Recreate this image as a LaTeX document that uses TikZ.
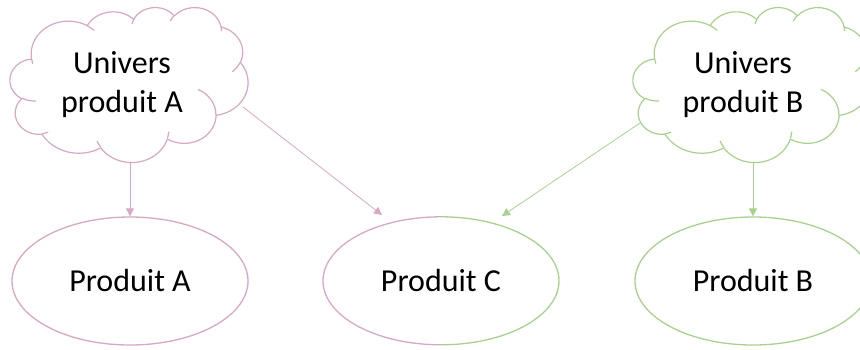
\documentclass[tikz,border=0pt]{standalone}
\usepackage{fontspec}
\setmainfont{Carlito}
\usetikzlibrary{arrows.meta,shapes.geometric}
\definecolor{pinkc}{RGB}{214,168,196}
\definecolor{greenc}{RGB}{169,209,142}

% DrawingML-style arcTo: wR hR stAng swAng (degrees, visual angles)
\newcommand\oocalc[4]{%
  \pgfmathsetmacro\ooA{#3+mod(atan2(#1*sin(#3),#2*cos(#3))-(#3)+540,360)-180}%
  \pgfmathsetmacro\ooE{#3+#4}%
  \pgfmathsetmacro\ooB{\ooE+mod(atan2(#1*sin(\ooE),#2*cos(\ooE))-(\ooE)+540,360)-180}%
  \global\let\ooAg\ooA \global\let\ooBg\ooB}
\def\ooarc#1#2#3#4{\pgfextra{\oocalc{#1}{#2}{#3}{#4}} arc[start angle=\ooAg, end angle=\ooBg, x radius=#1, y radius=#2]}

\newcommand\drawcloud[5]{%
  \begin{scope}[shift={(#1,#2)}, xscale=#3/43.2, yscale=#4/43.2]
    \draw[#5, line width=1.2pt, line join=round, fill=white]
      (3.900,14.370)
      \ooarc{6.753}{9.190}{-190.4875}{123.7805}
      \ooarc{5.333}{7.267}{-144.1024}{89.9452}
      \ooarc{4.365}{5.945}{-145.8079}{99.7230}
      \ooarc{4.857}{6.595}{-130.9861}{117.2417}
      \ooarc{5.333}{7.273}{-78.7089}{109.0269}
      \ooarc{6.775}{9.220}{-46.2673}{130.2690}
      \ooarc{5.785}{7.867}{0.6250}{114.0333}
      \ooarc{6.752}{9.215}{22.4516}{115.1726}
      \ooarc{7.720}{10.543}{66.2426}{75.7110}
      \ooarc{4.360}{5.918}{-274.9421}{146.7356}
      \ooarc{4.345}{5.945}{-246.8285}{152.5189}
      -- cycle;
    \draw[#5, line width=1.2pt]
      (4.693,26.177) \ooarc{4.345}{5.945}{86.7420}{26.4295}
      (6.928,34.899) \ooarc{4.360}{5.918}{73.6105}{11.4475}
      (16.478,39.090) \ooarc{6.752}{9.215}{137.6242}{14.0811}
      (28.827,34.751) \ooarc{6.752}{9.215}{6.4533}{15.9984}
      (34.129,22.954) \ooarc{5.785}{7.867}{-70.2924}{70.9174}
      (41.798,15.354) \ooarc{5.333}{7.273}{30.3180}{27.7515}
      (38.324,5.426) \ooarc{4.857}{6.595}{-13.7443}{14.8589}
      (29.078,3.952) \ooarc{4.857}{6.595}{-149.1815}{18.1954}
      (22.141,4.720) \ooarc{4.365}{5.945}{-163.4943}{17.6864}
      (14.000,5.192) \ooarc{6.753}{9.190}{-66.7070}{12.3194}
      (4.127,15.789) \ooarc{6.753}{9.190}{157.6544}{11.8582};
  \end{scope}}

\begin{document}
\begin{tikzpicture}[x=1pt,y=-1pt,
  shapeline/.style={line width=1.3pt},
  conn/.style={line width=0.8pt,-{Triangle[length=8pt,width=8pt]}},
  prod/.style={ellipse, minimum width=236pt, minimum height=128pt, inner sep=0pt,
    font=\fontsize{32}{39}\selectfont},
  cloudtext/.style={align=center, inner sep=0pt, font=\fontsize{32}{39}\selectfont}]
  \useasboundingbox (0,0) rectangle (860,349);

  % clouds
  \drawcloud{10}{7}{238}{155}{pinkc}
  \drawcloud{633}{7}{238}{155}{greenc}
  \node[cloudtext] (ua) at (122,84.5) {Univers\\produit A};
  \node[cloudtext] (ub) at (743,84.5) {Univers\\produit B};

  % products
  \node[prod, draw=pinkc, shapeline] (pa) at (130,281) {Produit A};
  \node[prod] (pc) at (441,281) {Produit C};
  \node[prod, draw=greenc, shapeline] (pb) at (753,281) {Produit B};
  \draw[pinkc, shapeline] (pc.north) arc[start angle=90, end angle=270, x radius=118pt, y radius=64pt];
  \draw[greenc, shapeline] (pc.north) arc[start angle=90, end angle=-90, x radius=118pt, y radius=64pt];

  % connector end points
  \coordinate (uaS) at (130,162.5);
  \coordinate (uaE) at (243,107);
  \coordinate (tipA) at (382,215);
  \coordinate (ubW) at (640,123);
  \coordinate (tipB) at (502,216);
  \coordinate (ubS) at (753,162.5);

  \draw[conn, pinkc] (uaS) -- (pa.north);
  \draw[conn, pinkc] (uaE) -- (tipA);
  \draw[conn, greenc] (ubW) -- (tipB);
  \draw[conn, greenc] (ubS) -- (pb.north);
\end{tikzpicture}
\end{document}
